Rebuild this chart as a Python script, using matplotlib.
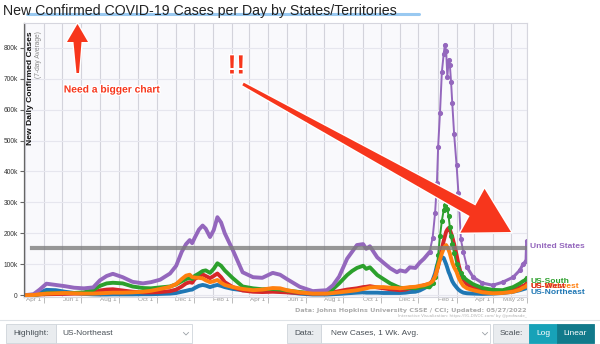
import matplotlib
matplotlib.use("Agg")
import matplotlib.pyplot as plt
import matplotlib.patheffects as pe
from matplotlib.patches import Polygon, Rectangle
from matplotlib.transforms import ScaledTranslation
import numpy as np
import pandas as pd

plt.rcParams["font.family"] = ["Liberation Sans", "DejaVu Sans"]

# 7-day average of new daily cases, thousands
dates = pd.to_datetime([
    "2020-03-01", "2020-03-15", "2020-03-25", "2020-04-05", "2020-04-20", "2020-05-05",
    "2020-05-20", "2020-06-05", "2020-06-20", "2020-07-01", "2020-07-12", "2020-07-22",
    "2020-08-07", "2020-08-23", "2020-09-09", "2020-09-22", "2020-10-07", "2020-10-23",
    "2020-11-02", "2020-11-11", "2020-11-18", "2020-11-24", "2020-11-28", "2020-12-02",
    "2020-12-09", "2020-12-15", "2020-12-20", "2020-12-27", "2021-01-02", "2021-01-08",
    "2021-01-14", "2021-01-20", "2021-02-02", "2021-02-18", "2021-03-07", "2021-03-22",
    "2021-04-08", "2021-04-20", "2021-05-01", "2021-05-22", "2021-06-12", "2021-07-05",
    "2021-07-15", "2021-07-25", "2021-08-07", "2021-08-15", "2021-08-23", "2021-09-02",
    "2021-09-07", "2021-09-13", "2021-09-25", "2021-10-05", "2021-10-16", "2021-10-27",
    "2021-11-01", "2021-11-10", "2021-11-17", "2021-11-26", "2021-12-03", "2021-12-10",
    "2021-12-19", "2021-12-24", "2021-12-28", "2021-12-31", "2022-01-02", "2022-01-05",
    "2022-01-08", "2022-01-11", "2022-01-13", "2022-01-15", "2022-01-17", "2022-01-19",
    "2022-01-21", "2022-01-23", "2022-01-25", "2022-01-28", "2022-02-01", "2022-02-04",
    "2022-02-08", "2022-02-12", "2022-02-18", "2022-02-28", "2022-03-15", "2022-04-01",
    "2022-04-17", "2022-05-04", "2022-05-15", "2022-05-20", "2022-05-25", "2022-05-26",
])

united_states = [
    0, 3, 18, 37, 33, 29, 24, 22, 25, 48, 62, 69,
    58, 43, 38, 42, 50, 70, 95, 140, 165, 178, 168, 185,
    212, 225, 215, 188, 210, 252, 235, 200, 146, 74, 58, 56,
    72, 66, 52, 27, 13, 16, 32, 60, 118, 140, 162, 165,
    150, 158, 122, 105, 87, 74, 80, 76, 90, 88, 105, 118,
    139, 185, 265, 362, 480, 590, 720, 780, 810, 790, 705, 760,
    745, 690, 620, 520, 420, 330, 180, 140, 90, 58, 39, 32,
    42, 58, 81, 100, 112, 175,
]
us_south = [
    0, 0.5, 3, 6, 7, 7, 7, 9, 17, 30, 38, 40,
    38, 28, 23, 22, 25, 28, 35, 45, 52, 56, 52, 62,
    70, 78, 80, 72, 85, 103, 95, 80, 55, 28, 22, 19,
    20, 18, 15, 10, 6, 8, 20, 38, 65, 78, 88, 95,
    85, 90, 65, 52, 38, 28, 24, 22, 24, 22, 25, 28,
    25, 38, 60, 95, 130, 190, 240, 275, 290, 300, 280, 255,
    220, 190, 165, 135, 100, 85, 70, 58, 48, 35, 23, 17,
    16, 26, 38, 45, 50, 56,
]
us_midwest = [
    0, 0.5, 3, 5, 6, 7, 6, 5, 5, 6, 7, 8,
    8, 9, 11, 14, 20, 27, 36, 52, 63, 66, 58, 57,
    56, 54, 48, 42, 45, 49, 40, 33, 26, 20, 16, 18,
    23, 22, 16, 9, 5, 5, 7, 9, 12, 14, 16, 20,
    22, 25, 26, 26, 24, 23, 22, 24, 26, 27, 30, 32,
    38, 45, 60, 80, 95, 115, 135, 150, 158, 162, 155, 146,
    135, 120, 105, 90, 75, 58, 42, 30, 22, 16, 9, 6,
    7, 11, 18, 24, 28, 32,
]
us_west = [
    0, 0.5, 2, 3, 3.5, 4, 5, 6, 9, 15, 18, 19,
    15, 11, 9, 9, 10, 13, 18, 28, 38, 42, 40, 52,
    60, 67, 62, 55, 62, 70, 58, 42, 26, 15, 11, 10,
    11, 10, 9, 7, 5, 6, 9, 13, 18, 20, 22, 26,
    27, 29, 25, 22, 19, 17, 16, 18, 22, 24, 28, 32,
    36, 45, 60, 80, 95, 120, 150, 175, 190, 205, 212, 217,
    212, 200, 188, 165, 130, 100, 70, 50, 35, 24, 14, 10,
    11, 16, 25, 30, 34, 39,
]
us_northeast = [
    0, 1, 8, 17, 16, 11, 7, 4, 2.5, 2, 2, 2.5,
    2.5, 2.5, 3, 3, 4, 5, 7, 11, 14, 17, 18, 23,
    30, 33, 31, 26, 30, 33, 30, 26, 20, 16, 16, 17,
    19, 15, 10, 5, 2, 2, 3, 4, 6, 7, 8, 9,
    8, 8, 8, 7, 7, 7, 7, 8, 10, 11, 15, 22,
    32, 48, 70, 95, 108, 118, 123, 120, 110, 100, 88, 75,
    66, 55, 45, 35, 25, 18, 12, 8, 6, 5, 4, 5,
    7, 11, 16, 19, 22, 26,
]

tick_dates = pd.to_datetime([
    "2020-04-01", "2020-06-01", "2020-08-01", "2020-10-01", "2020-12-01",
    "2021-02-01", "2021-04-01", "2021-06-01", "2021-08-01", "2021-10-01",
    "2021-12-01", "2022-02-01", "2022-04-01", "2022-05-26",
])
tick_labels = ["Apr 1", "Jun 1", "Aug 1", "Oct 1", "Dec 1", "Feb 1", "Apr 1",
               "Jun 1", "Aug 1", "Oct 1", "Dec 1", "Feb 1", "Apr 1", "May 26"]

RED = "#f7361c"
W, H = 600, 344


def fx(px):
    return px / W


def fy(py):
    return 1 - py / H


fig = plt.figure(figsize=(6, 3.44), dpi=100, facecolor="white")
ax = fig.add_axes([fx(24), fy(297), fx(527) - fx(24), fy(23) - fy(297)])
ax.set_facecolor("#f9f9fc")


def draw(vals, color, z, pieces):
    """pieces: (start, end, linewidth, marker) slices along the date grid."""
    v = np.array(vals) * 1000
    for a, b, lw, mk in pieces:
        m = (dates >= pd.Timestamp(a)) & (dates <= pd.Timestamp(b))
        ax.plot(dates[m], v[m], color=color, lw=lw, zorder=z,
                marker=mk, ms=2.7, solid_joinstyle="round", solid_capstyle="round")


first, last = "2020-03-01", "2022-05-26"
draw(us_northeast, "#1f77b4", 2.1, [(first, last, 2.8, None)])
draw(us_west, "#d62728", 2.2, [(first, last, 2.8, None)])
draw(us_south, "#2ca02c", 2.3, [(first, "2021-12-24", 2.8, None),
                                ("2021-12-24", "2022-02-12", 1.4, "o"),
                                ("2022-02-12", last, 2.8, None)])
draw(united_states, "#9467bd", 2.4, [(first, "2021-12-19", 2.8, None),
                                     ("2021-12-19", "2022-02-18", 1.4, "o"),
                                     ("2022-02-18", last, 2.2, "o")])
draw(us_midwest, "#ff7f0e", 2.5, [(first, last, 2.8, None)])

# reference level line
ax.axhline(152000, xmin=(32 - 24) / 503, xmax=1, color="#7d7d7d", alpha=0.8, lw=3, zorder=3)

ax.set_xlim(pd.Timestamp("2020-02-28 12:00"), pd.Timestamp("2022-05-26 12:00"))
ax.set_ylim(-6000, 880000)

yt = np.arange(0, 900000, 100000)
ax.set_yticks(yt)
ax.set_yticklabels(["0"] + [f"{int(t / 1000)}k" for t in yt[1:]])
ax.tick_params(axis="y", length=3, width=0.8, color="#666", labelsize=4.8,
               labelcolor="#333", pad=1.5)
ax.grid(axis="y", color="#e6e6ee", lw=0.8)

ax.set_xticks(tick_dates)
ax.set_xticklabels(tick_labels)
ax.set_xticks(pd.date_range("2020-03-01", "2022-05-01", freq="MS"), minor=True)
ax.tick_params(axis="x", which="major", length=4.5, width=0.7, color="#bbbbbb",
               labelsize=4.6, labelcolor="#9a9a9a", pad=-4.3)
ax.tick_params(axis="x", which="minor", length=0)
ax.grid(axis="x", which="both", color="#d3d3db", lw=0.8)
shift = ScaledTranslation(-2 / 72, 0, fig.dpi_scale_trans)
for lbl in ax.get_xticklabels():
    lbl.set_ha("right")
    lbl.set_transform(lbl.get_transform() + shift)
ax.set_axisbelow(True)

for side in ["top", "right", "bottom"]:
    ax.spines[side].set_color("#d6d6de")
    ax.spines[side].set_linewidth(0.8)
ax.spines["left"].set_color("#666")
ax.spines["left"].set_linewidth(0.9)

# axis titles inside the plot
fig.text(fx(31), fy(31), "New Daily Confirmed Cases", rotation=90, ha="center", va="top",
         fontsize=6.1, fontweight="bold", color="#111")
fig.text(fx(38.5), fy(31), "(7-day Average)", rotation=90, ha="center", va="top",
         fontsize=4.8, color="#888")

# end-of-line labels
end_labels = [
    ("United States", 158, "#9467bd"),
    ("US-South", 45, "#2ca02c"),
    ("US-Midwest", 29, "#ff7f0e"),
    ("US-West", 29, "#d62728"),
    ("US-Northeast", 9, "#1f77b4"),
]
for name, yk, col in end_labels:
    ax.annotate(name, xy=(dates[-1], yk * 1000), xytext=(2.5, 0), textcoords="offset points",
                ha="left", va="center", fontsize=6.1, fontweight="bold", color=col,
                annotation_clip=False)

# title with highlight stroke
fig.text(fx(3), fy(11), "New Confirmed COVID-19 Cases per Day by States/Territories",
         ha="left", va="center", fontsize=10.2, color="#222")
fig.add_artist(plt.Line2D([fx(27), fx(419)], [fy(14), fy(14)], color="#8ec3f0",
                          lw=2.2, alpha=0.9, solid_capstyle="round"))

# source notes
fig.text(fx(527), fy(310.5), "Data: Johns Hopkins University CSSE / CCI; Updated: 05/27/2022",
         ha="right", va="center", fontsize=4.6, fontweight="bold", color="#ababab",
         family=["DejaVu Sans"])
fig.text(fx(527), fy(316), "Interactive Visualization: https://91-DIVOC.com/ by @profwade_",
         ha="right", va="center", fontsize=2.9, color="#b0b0b0", family=["DejaVu Sans"])

# red call-outs
halo = [pe.withStroke(linewidth=2, foreground="white")]


def px_poly(pts):
    return Polygon([(fx(x), fy(y)) for x, y in pts], closed=True, transform=fig.transFigure,
                   facecolor=RED, edgecolor="none", zorder=10, path_effects=halo)


fig.add_artist(px_poly([(77.5, 24), (88, 42), (81.5, 42), (79, 73), (76.5, 73),
                        (73.5, 42), (67, 42)]))

S = np.array([243.0, 84.0])
T = np.array([511.0, 232.0])
d = (T - S) / np.linalg.norm(T - S)
n = np.array([-d[1], d[0]])
B = T - 44 * d
fig.add_artist(px_poly([S + 1.5 * n, B + 6 * n, B + 25 * n, T, B - 25 * n, B - 6 * n, S - 1.5 * n]))

fig.text(fx(112), fy(89.5), "Need a bigger chart", ha="center", va="center", fontsize=7.4,
         fontweight="bold", color=RED, path_effects=halo, zorder=11)
fig.text(fx(236.5), fy(66.5), "!!", ha="center", va="center", fontsize=19,
         fontweight="bold", color=RED, path_effects=halo, zorder=11)

# control bar
fig.add_artist(plt.Line2D([0, 1], [fy(319.5), fy(319.5)], color="#dee2e6", lw=0.8))


def box(x0, x1, fc, ec="#ced4da"):
    fig.add_artist(Rectangle((fx(x0), fy(343)), fx(x1) - fx(x0), fy(324) - fy(343),
                             transform=fig.transFigure, facecolor=fc, edgecolor=ec, lw=0.6))


def chevron(xc):
    fig.add_artist(plt.Line2D([fx(xc - 2.5), fx(xc), fx(xc + 2.5)],
                              [fy(332.5), fy(335), fy(332.5)], color="#9aa0a6", lw=0.6))


box(6, 56, "#e9ecef")
box(56, 192, "white")
box(287, 321, "#e9ecef")
box(321, 490, "white")
box(493, 529, "#e9ecef")
box(529, 557, "#17a2b8", "#17a2b8")
box(557, 594, "#117a8b", "#117a8b")
chevron(186)
chevron(485)

ctrl = dict(va="center", fontsize=6, color="#495057")
fig.text(fx(31), fy(333.5), "Highlight:", ha="center", **ctrl)
fig.text(fx(62), fy(333.5), "US-Northeast", ha="left", **ctrl)
fig.text(fx(304), fy(333.5), "Data:", ha="center", **ctrl)
fig.text(fx(331), fy(333.5), "New Cases, 1 Wk. Avg.", ha="left", **ctrl)
fig.text(fx(511), fy(333.5), "Scale:", ha="center", **ctrl)
fig.text(fx(543), fy(333.5), "Log", ha="center", va="center", fontsize=6, color="white")
fig.text(fx(575.5), fy(333.5), "Linear", ha="center", va="center", fontsize=6, color="white")

fig.savefig("out.png", dpi=100)
